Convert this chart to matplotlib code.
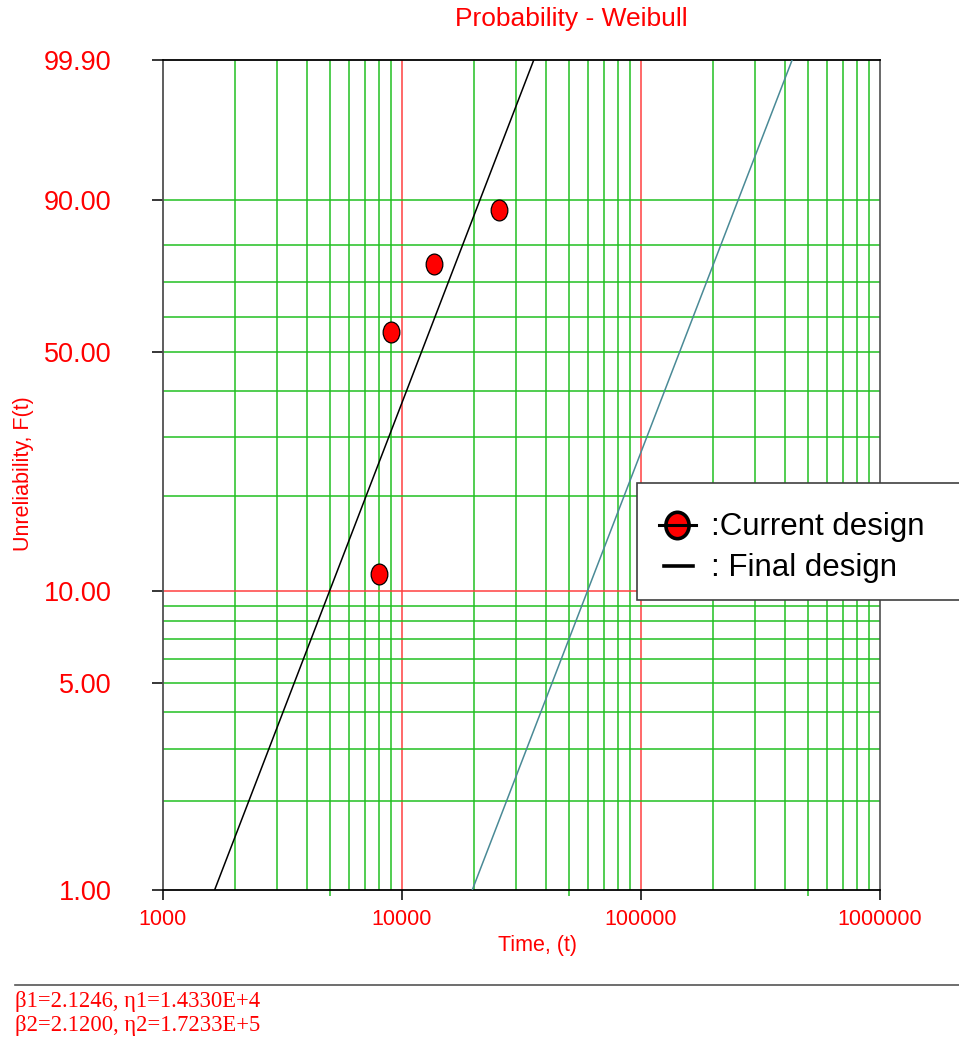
import matplotlib
matplotlib.use("Agg")
import matplotlib.pyplot as plt
import numpy as np
from matplotlib.path import Path
from matplotlib.transforms import Affine2D
from matplotlib.patches import Rectangle
from matplotlib.lines import Line2D

# data
fail_times = [8000, 9000, 13600, 25400]
unreliability = [11.4, 55.6, 75.0, 88.0]
betas = [2.1246, 2.1200]
etas = [1.4330e4, 1.7233e5]
line_colors = ['black', '#4a8a96']

y_ticks = [1.0, 5.0, 10.0, 50.0, 90.0, 99.9]
y_ticklabels = ['1.00', '5.00', '10.00', '50.00', '90.00', '99.90']
x_ticks = [1000, 10000, 100000, 1000000]
x_ticklabels = ['1000', '10000', '100000', '1000000']
y_grid = [2, 3, 4, 5, 6, 7, 8, 9, 20, 30, 40, 50, 60, 70, 80, 90]
legend_labels = [':Current design', ': Final design']
param_lines = ['\u03b21=2.1246, \u03b71=1.4330E+4',
               '\u03b22=2.1200, \u03b72=1.7233E+5']

GREEN = '#22c022'
RED = '#ff4040'
W, H = 959, 1037


def fwd(F):
    F = np.asarray(F, dtype=float)
    with np.errstate(all='ignore'):
        return np.log(-np.log(1 - np.clip(F, 1e-9, 99.99999) / 100.0))


def inv(y):
    y = np.asarray(y, dtype=float)
    with np.errstate(all='ignore'):
        return 100.0 * (1 - np.exp(-np.exp(y)))


def fx(px):
    return px / W


def fy(py):
    return 1 - py / H


fig = plt.figure(figsize=(W / 100, H / 100), dpi=100)
ax = fig.add_axes([fx(163), fy(890), (880 - 163) / W, (890 - 60) / H])
ax.set_xscale('log')
ax.set_yscale('function', functions=(fwd, inv))
ax.set_xlim(1000, 1000000)
ax.set_ylim(1.0, 99.9)

# grid
for k in [1000, 10000, 100000]:
    for m in range(2, 10):
        ax.axvline(k * m, color=GREEN, lw=1.1, zorder=1)
for v in [10000, 100000]:
    ax.axvline(v, color=RED, lw=1.1, zorder=1)
for g in y_grid:
    ax.axhline(g, color=GREEN, lw=1.1, zorder=1)
ax.axhline(10, color=RED, lw=1.1, zorder=1)

# fitted weibull lines
F_line = np.linspace(1.0, 99.9, 400)
for b, e, c in zip(betas, etas, line_colors):
    t = e * (-np.log(1 - F_line / 100.0)) ** (1.0 / b)
    ax.plot(t, F_line, color=c, lw=1.1, zorder=3)

ellipse = Path.unit_circle().transformed(Affine2D().scale(0.8, 1.0))
ax.plot(fail_times, unreliability, ls='none', marker=ellipse, ms=15,
        mfc='red', mec='black', mew=0.9, zorder=4)

# axes styling
ax.set_yticks(y_ticks)
ax.set_yticklabels(y_ticklabels)
ax.set_xticks(x_ticks)
ax.set_xticklabels(x_ticklabels)
ax.minorticks_off()
ax.set_xticks([5000, 50000, 500000], minor=True)
ax.tick_params(axis='y', which='major', length=8, width=1.1, pad=29,
               labelsize=19.5, labelcolor='red', direction='out')
ax.tick_params(axis='x', which='major', length=7, width=1.1, pad=7,
               labelsize=15.5, labelcolor='red', direction='out')
ax.tick_params(axis='x', which='minor', length=4, width=1.1, color=GREEN)
tick_cols_y = ['black', GREEN, RED, GREEN, GREEN, 'black']
for tk, c in zip(ax.yaxis.get_major_ticks(), tick_cols_y):
    tk.tick1line.set_color(c)
tick_cols_x = ['#505050', RED, RED, '#505050']
for tk, c in zip(ax.xaxis.get_major_ticks(), tick_cols_x):
    tk.tick1line.set_color(c)

ax.spines['left'].set_color('#505050')
ax.spines['left'].set_linewidth(1.3)
ax.spines['bottom'].set_color('black')
ax.spines['bottom'].set_linewidth(1.3)
ax.spines['top'].set_color('black')
ax.spines['top'].set_linewidth(1.3)
ax.spines['right'].set_color('#505050')
ax.spines['right'].set_linewidth(1.2)

fnt = 'Liberation Sans'
fig.text(fx(571), fy(19), 'Probability - Weibull', color='red', fontsize=19,
         ha='center', va='center', family=fnt)
fig.text(fx(537), fy(945), 'Time, (t)', color='red', fontsize=15.5,
         ha='center', va='center', family=fnt)
fig.text(fx(24), fy(474), 'Unreliability, F(t)', color='red', fontsize=15.5,
         ha='center', va='center', rotation=90, family=fnt)
for lab in ax.get_xticklabels() + ax.get_yticklabels():
    lab.set_family(fnt)

# legend box drawn by hand (runs off the right edge)
fig.add_artist(Rectangle((fx(637), fy(600)), (1000 - 637) / W, (600 - 483) / H,
                         transform=fig.transFigure, facecolor='white',
                         edgecolor='#404040', lw=1.2, zorder=5, clip_on=False))
leg_ellipse = Path.unit_circle().transformed(Affine2D().scale(0.88, 1.0))
fig.add_artist(Line2D([fx(677)], [fy(525)], marker=leg_ellipse, ms=19, mfc='red',
                      mec='black', mew=2.6, zorder=6))
fig.add_artist(Line2D([fx(659), fx(696)], [fy(525), fy(525)], color='black',
                      lw=2.2, zorder=7))
fig.add_artist(Line2D([fx(664), fx(693)], [fy(566), fy(566)], color='black',
                      lw=2.6, zorder=6))
fig.text(fx(711), fy(527), legend_labels[0], fontsize=22.5, ha='left',
         va='center', family=fnt, zorder=8)
fig.text(fx(711), fy(568), legend_labels[1], fontsize=22.5, ha='left',
         va='center', family=fnt, zorder=8)

# parameter footer
fig.add_artist(Line2D([fx(15), 1.0], [fy(985), fy(985)], color='#555555', lw=1.2))
for i, s in enumerate(param_lines):
    fig.text(fx(15), fy(1001 + 24 * i), s, color='red', fontsize=16.3,
             ha='left', va='center', family='Liberation Serif')

fig.savefig('out.png', dpi=100)
